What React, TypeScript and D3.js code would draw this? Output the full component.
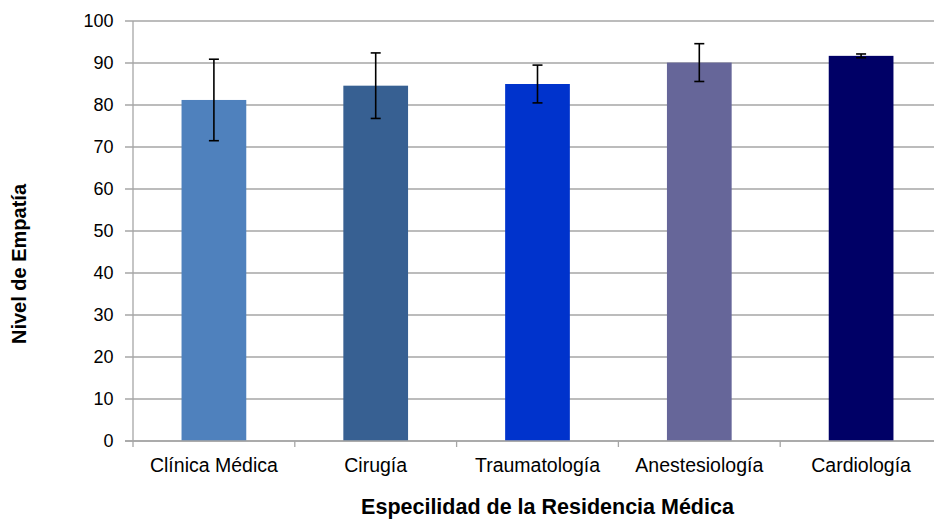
import React from "react";
import * as d3 from "d3";

const categories = ["Clínica Médica", "Cirugía", "Traumatología", "Anestesiología", "Cardiología"];
const means = [81.2, 84.6, 85.0, 90.1, 91.7];
const errors = [9.7, 7.8, 4.5, 4.5, 0.45];
const colors = ["#4F81BD", "#376092", "#0033CC", "#666699", "#000066"];
const yTicks = [0, 10, 20, 30, 40, 50, 60, 70, 80, 90, 100];

export default function App() {
  const W = 934, H = 519;
  const left = 133, top = 21, bottom = 441;
  const right = 133 + 809;
  const x = d3.scaleBand<string>().domain(categories).range([left, right]).paddingInner(0.6).paddingOuter(0.3);
  const xb = d3.scaleBand<string>().domain(categories).range([left, right]).padding(0);
  const y = d3.scaleLinear().domain([0, 100]).range([bottom, top]);
  const font = "Arial, 'Liberation Sans', sans-serif";
  return (
    <svg width={W} height={H} style={{ position: "fixed", left: 0, top: 0 }} fontFamily={font}>
      <rect width={W} height={H} fill="#fff" />
      {yTicks.map((t) => (
        <g key={t}>
          <line x1={left - 8} x2={W} y1={y(t)} y2={y(t)} stroke="#a6a6a6" strokeWidth={1.3} />
          <text x={113.5} y={y(t)} dy="0.35em" textAnchor="end" fontSize={18} fill="#000">{t}</text>
        </g>
      ))}
      <line x1={left} x2={left} y1={top} y2={bottom} stroke="#a6a6a6" strokeWidth={1.3} />
      {categories.map((c, i) => (
        <g key={c}>
          <rect x={x(c)} y={y(means[i])} width={x.bandwidth()} height={bottom - y(means[i])} fill={colors[i]} />
          <line x1={xb(c)! + xb.bandwidth() / 2} x2={xb(c)! + xb.bandwidth() / 2} y1={y(means[i] + errors[i])} y2={y(means[i] - errors[i])} stroke="#000" strokeWidth={1.6} />
          <line x1={xb(c)! + xb.bandwidth() / 2 - 5} x2={xb(c)! + xb.bandwidth() / 2 + 5} y1={y(means[i] + errors[i])} y2={y(means[i] + errors[i])} stroke="#000" strokeWidth={1.6} />
          <line x1={xb(c)! + xb.bandwidth() / 2 - 5} x2={xb(c)! + xb.bandwidth() / 2 + 5} y1={y(means[i] - errors[i])} y2={y(means[i] - errors[i])} stroke="#000" strokeWidth={1.6} />
          <line x1={xb(c)! + xb.bandwidth()} x2={xb(c)! + xb.bandwidth()} y1={bottom} y2={bottom + 6} stroke="#a6a6a6" strokeWidth={1.3} />
          <text x={xb(c)! + xb.bandwidth() / 2} y={471.5} textAnchor="middle" fontSize={19.5} fill="#000">{c}</text>
        </g>
      ))}
      <line x1={left} x2={left} y1={bottom} y2={bottom + 6} stroke="#a6a6a6" strokeWidth={1.3} />
      <line x1={left - 8} x2={W} y1={bottom} y2={bottom} stroke="#a6a6a6" strokeWidth={1.3} />
      <text x={547.5} y={514} textAnchor="middle" fontSize={21.5} fontWeight="bold" fill="#000">Especilidad de la Residencia Médica</text>
      <text transform="translate(26,264) rotate(-90)" textAnchor="middle" fontSize={20} fontWeight="bold" fill="#000">Nivel de Empatía</text>
    </svg>
  );
}
